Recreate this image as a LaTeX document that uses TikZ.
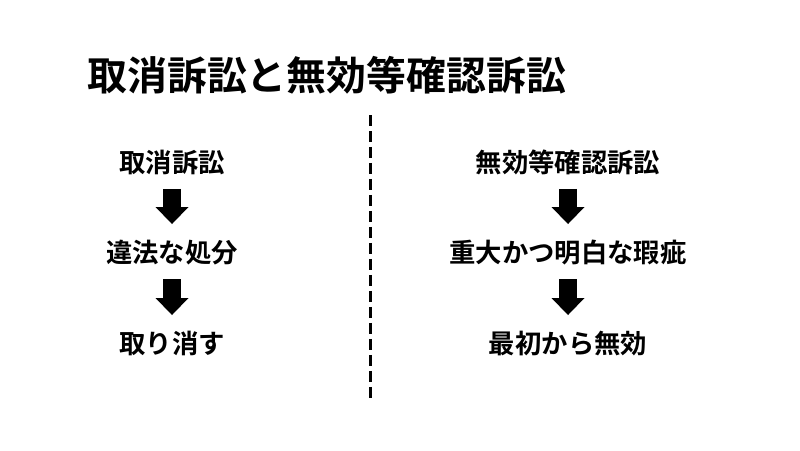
\documentclass[tikz,border=0pt]{standalone}
\usepackage{fontspec}
\usepackage{tikz}
\usetikzlibrary{arrows.meta}
\newfontfamily\jpfont{Noto Sans CJK JP}[BoldFont={Noto Sans CJK JP Bold}]
\newcommand{\titlefont}{\jpfont\bfseries\fontsize{22.7pt}{27pt}\selectfont}
\newcommand{\stepfont}{\jpfont\bfseries\fontsize{15pt}{18pt}\selectfont}

\begin{document}
\begin{tikzpicture}[x=0.02cm,y=-0.02cm,
  heading/.style={anchor=west,inner sep=0pt,font=\titlefont},
  stepnode/.style={inner sep=0pt,text height=12.4pt,text depth=1pt,font=\stepfont},
  blockarrow/.style={line width=0.36cm,
    -{Triangle[width=0.66cm,length=0.34cm,line width=0pt]},
    shorten <=0.54cm,shorten >=0.56cm},
  divider/.style={line width=0.06cm,dash pattern=on 0.22cm off 0.1cm}]
  \fill[white] (0,0) rectangle (800,450);
  \useasboundingbox (0,0) rectangle (800,450);
  % title
  \node[heading] (title) at (87,75) {取消訴訟と無効等確認訴訟};
  % left column
  \node[stepnode] (torikeshi) at (172,162) {取消訴訟};
  \node[stepnode] (ihou) at (172,252) {違法な処分};
  \node[stepnode] (kesu) at (172,343) {取り消す};
  \draw[blockarrow] (torikeshi.center) -- (ihou.center);
  \draw[blockarrow] (ihou.center) -- (kesu.center);
  % right column
  \node[stepnode] (mukou) at (568,162) {無効等確認訴訟};
  \node[stepnode] (kashi) at (568,252) {重大かつ明白な瑕疵};
  \node[stepnode] (saisho) at (568,343) {最初から無効};
  \draw[blockarrow] (mukou.center) -- (kashi.center);
  \draw[blockarrow] (kashi.center) -- (saisho.center);
  % divider
  \coordinate (divtop) at (370,115);
  \coordinate (divbot) at (370,398);
  \draw[divider] (divtop) -- (divbot);
\end{tikzpicture}
\end{document}
